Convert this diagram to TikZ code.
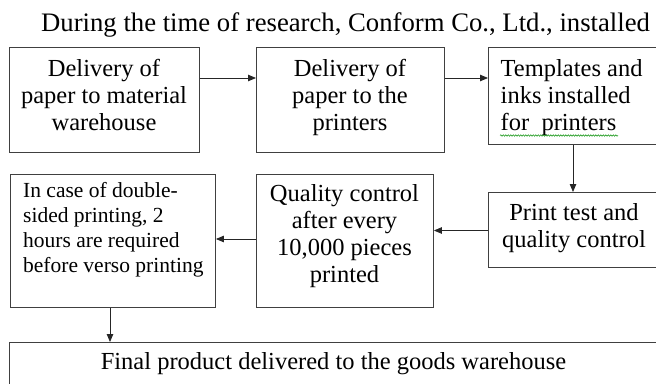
\documentclass[tikz,border=0pt]{standalone}
\usepackage{fontspec}
\setmainfont{Liberation Serif}
\usetikzlibrary{arrows.meta,decorations.pathmorphing}
\begin{document}
\begin{tikzpicture}[x=1pt,y=-1pt,
  box/.style={draw=black!75,line width=0.9pt,inner sep=0pt,anchor=north west},
  conn/.style={draw=black!85,line width=0.8pt,-{Triangle[length=8pt,width=6.5pt]}},
  big/.style={font=\fontsize{24.5}{27}\selectfont,inner sep=0pt,anchor=base},
  small/.style={font=\fontsize{21.5}{25}\selectfont,inner sep=0pt,anchor=base west,align=left},
]
\useasboundingbox (0,0) rectangle (656,383);
\clip (0,0) rectangle (656,383);
% boxes
\node[box,minimum width=190pt,minimum height=105pt] (b1) at (9,47) {};
\node[box,minimum width=188pt,minimum height=105pt] (b2) at (256,47) {};
\node[box,minimum width=212pt,minimum height=97pt] (b3) at (488,47) {};
\node[box,minimum width=212pt,minimum height=75pt] (b4) at (488,192) {};
\node[box,minimum width=177pt,minimum height=133pt] (b5) at (256,174) {};
\node[box,minimum width=205pt,minimum height=133pt] (b6) at (10,174) {};
\node[box,minimum width=700pt,minimum height=80pt] (b7) at (9,342) {};
% title
\node[font=\fontsize{26.7}{28}\selectfont,inner sep=0pt,anchor=base west] (title) at (41,31.5) {During the time of research, Conform Co., Ltd., installed};
% texts (base anchor = baseline of the last line)
\node[big,align=center] (t1) at (104,130) {Delivery of\\paper to material\\warehouse};
\node[big,align=center] (t2) at (350,130) {Delivery of\\paper to the\\printers};
\node[big,align=left,anchor=base west] (t3) at (500.5,130) {Templates and\\inks installed\\for\ \ printers};
\node[big,align=center] (t4) at (574,247) {Print test and\\quality control};
\node[big,align=center] (t5) at (344.5,282.5) {Quality control\\after every\\10,000 pieces\\printed};
\node[small] (t6) at (23,272) {In case of double-\\sided printing, 2\\hours are required\\before verso printing};
\node[big] (t7) at (333.5,369.5) {Final product delivered to the goods warehouse};
% spell-check squiggle
\coordinate (sq1) at (500,135.5);
\coordinate (sq2) at (618,135.5);
\draw[green!55!black,line width=0.5pt,decorate,decoration={snake,amplitude=0.7pt,segment length=2.5pt}] (sq1) -- (sq2);
% connectors
\draw[conn] ([yshift=-31pt]b1.north east) -- ([yshift=-31pt]b2.north west);
\draw[conn] ([yshift=-31pt]b2.north east) -- ([yshift=-31pt]b3.north west);
\draw[conn] ([xshift=85pt]b3.south west) -- ([xshift=85pt]b4.north west);
\draw[conn] ([yshift=-38.5pt]b4.north west) -- ([yshift=-56.5pt]b5.north east);
\draw[conn] ([yshift=-65pt]b5.north west) -- ([yshift=-65pt]b6.north east);
\draw[conn] ([xshift=100pt]b6.south west) -- ([xshift=101pt]b7.north west);
\end{tikzpicture}
\end{document}
